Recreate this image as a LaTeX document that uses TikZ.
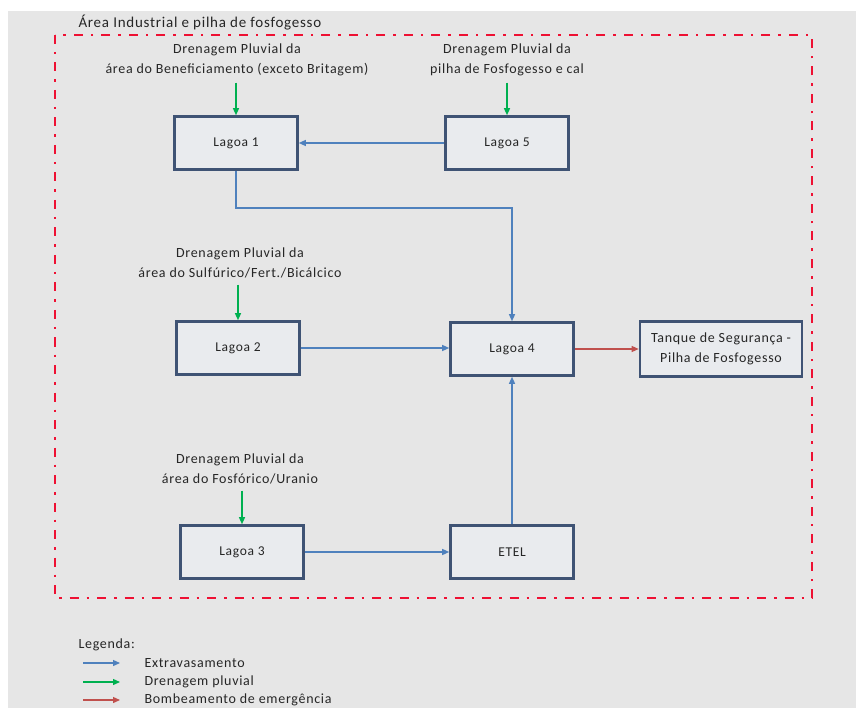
\documentclass[tikz,border=0pt]{standalone}
\usepackage{fontspec}
\setmainfont{Carlito}[LetterSpace=5]
\usetikzlibrary{arrows.meta}
\definecolor{fundo}{HTML}{E6E6E6}
\definecolor{caixa}{HTML}{E9EBEE}
\definecolor{borda}{HTML}{3F5374}
\definecolor{azul}{HTML}{4F81BD}
\definecolor{verde}{HTML}{00B050}
\definecolor{vermelho}{HTML}{C0504D}
\definecolor{limite}{HTML}{EE1133}
\definecolor{texto}{HTML}{262626}
\begin{document}
\begin{tikzpicture}[x=1pt, y=-1pt,
  lagoa/.style={draw=borda, line width=2.6pt, fill=caixa, minimum width=123pt,
    minimum height=53pt, text=texto, font=\fontsize{13.5}{15}\selectfont},
  rotulo/.style={align=center, text=texto, font=\fontsize{14}{20}\selectfont},
  legtexto/.style={anchor=west, text=texto, font=\fontsize{14}{16}\selectfont},
  extrav/.style={draw=azul, line width=1.3pt, -{Triangle[length=7pt,width=6pt]}},
  pluvial/.style={draw=verde, line width=1.3pt, -{Triangle[length=7pt,width=6pt]}},
  emerg/.style={draw=vermelho, line width=1.3pt, -{Triangle[length=7pt,width=6pt]}}]
\useasboundingbox (0,0) rectangle (856,708);
\fill[fundo] (8,11) rectangle (856,708);
\draw[limite, line width=2.8pt, dash pattern=on 9pt off 8pt on 2.5pt off 8pt] (55,35) rectangle (812,598);
\node[text=texto, font=\fontsize{15}{17}\selectfont, anchor=west] (area) at (75,23) {Área Industrial e pilha de fosfogesso};

\node[lagoa] (l1) at (236,143) {Lagoa 1};
\node[lagoa] (l5) at (507,143) {Lagoa 5};
\node[lagoa] (l2) at (238,348) {Lagoa 2};
\node[lagoa] (l4) at (512,349) {Lagoa 4};
\node[lagoa, minimum width=162pt, minimum height=55pt, align=center,
  font=\fontsize{14}{20}\selectfont] (tanque) at (721,349) {Tanque de Segurança -\\Pilha de Fosfogesso};
\node[lagoa] (l3) at (242,552) {Lagoa 3};
\node[lagoa] (etel) at (512,552) {ETEL};

\node[rotulo] (d1) at (237,60) {Drenagem Pluvial da\\área do Beneficiamento (exceto Britagem)};
\node[rotulo] (d5) at (507,60) {Drenagem Pluvial da\\pilha de Fosfogesso e cal};
\node[rotulo] (d2) at (240,263) {Drenagem Pluvial da\\área do Sulfúrico/Fert./Bicálcico};
\node[rotulo] (d3) at (240,469) {Drenagem Pluvial da\\área do Fosfórico/Uranio};

\draw[pluvial] ([yshift=-3pt]d1.south -| l1.north) -- (l1.north);
\draw[pluvial] ([yshift=-3pt]d5.south -| l5.north) -- (l5.north);
\draw[pluvial] ([yshift=-3pt]d2.south -| l2.north) -- (l2.north);
\draw[pluvial] ([yshift=-3pt]d3.south -| l3.north) -- (l3.north);

\coordinate (desvio) at (512,208);
\draw[extrav] (l5.west) -- (l1.east);
\draw[extrav] (l1.south) |- (desvio) -- (l4.north);
\draw[extrav] (l2.east) -- (l4.west |- l2.east);
\draw[extrav] (l3.east) -- (etel.west);
\draw[extrav] (etel.north) -- (l4.south);
\draw[emerg] (l4.east) -- (tanque.west);

\node[legtexto] (leg) at (75,645) {Legenda:};
\coordinate (a1) at (83,663);
\coordinate (b1) at (120,663);
\coordinate (a2) at (83,682);
\coordinate (b2) at (120,682);
\coordinate (a3) at (83,700);
\coordinate (b3) at (120,700);
\draw[extrav] (a1) -- (b1);
\draw[pluvial] (a2) -- (b2);
\draw[emerg] (a3) -- (b3);
\node[legtexto] (t1) at (141,663) {Extravasamento};
\node[legtexto] (t2) at (141,682) {Drenagem pluvial};
\node[legtexto] (t3) at (141,700) {Bombeamento de emergência};
\end{tikzpicture}
\end{document}
